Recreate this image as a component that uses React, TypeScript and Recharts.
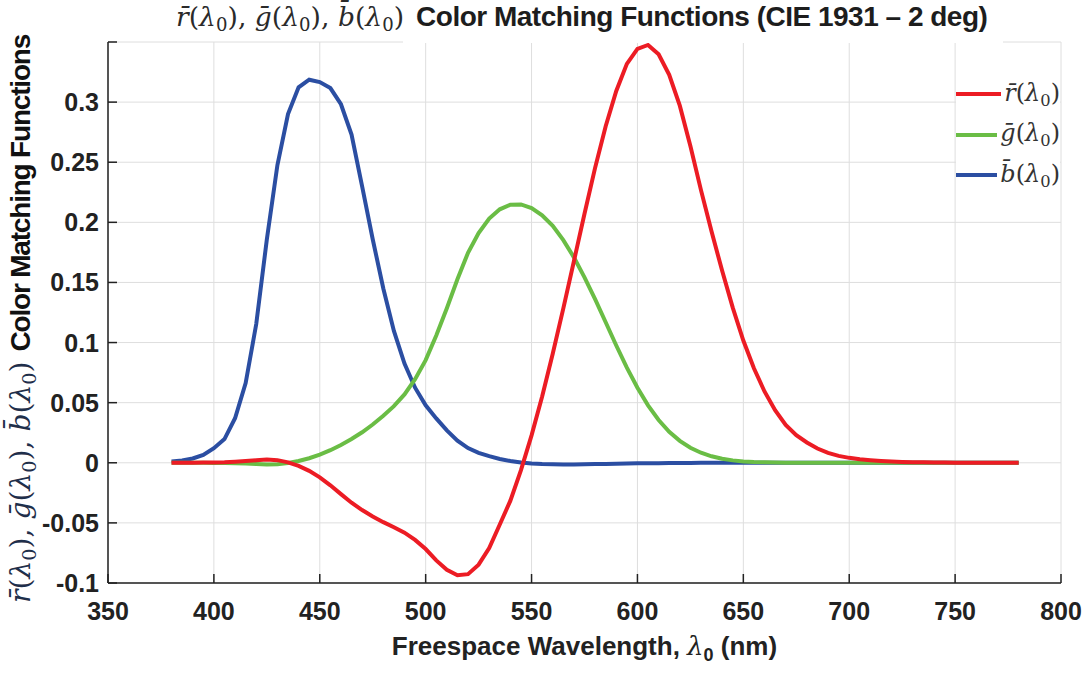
import React from 'react';
import {
  LineChart,
  Line,
  XAxis,
  YAxis,
  CartesianGrid,
  Legend,
} from 'recharts';

// CIE 1931 RGB colour matching functions, 5 nm steps
const wavelengths = [
  380, 385, 390, 395, 400, 405, 410, 415, 420, 425, 430, 435, 440, 445, 450, 455,
  460, 465, 470, 475, 480, 485, 490, 495, 500, 505, 510, 515, 520, 525, 530, 535,
  540, 545, 550, 555, 560, 565, 570, 575, 580, 585, 590, 595, 600, 605, 610, 615,
  620, 625, 630, 635, 640, 645, 650, 655, 660, 665, 670, 675, 680, 685, 690, 695,
  700, 705, 710, 715, 720, 725, 730, 735, 740, 745, 750, 755, 760, 765, 770, 775, 780,
];

const rBar = [
  0.00003, 0.00005, 0.0001, 0.00017, 0.0003, 0.00047, 0.00084, 0.00139, 0.00211, 0.00266,
  0.00218, 0.00036, -0.00261, -0.00673, -0.01213, -0.01874, -0.02608, -0.03324, -0.03933,
  -0.04471, -0.04939, -0.05364, -0.05814, -0.06414, -0.07173, -0.0812, -0.08901, -0.09356,
  -0.09264, -0.08473, -0.07101, -0.05136, -0.03152, -0.00613, 0.02279, 0.05514, 0.0906,
  0.1284, 0.16768, 0.20715, 0.24526, 0.27989, 0.30928, 0.33184, 0.34429, 0.34756, 0.33971,
  0.32265, 0.29708, 0.26348, 0.22677, 0.19233, 0.15968, 0.12905, 0.10167, 0.07857, 0.05932,
  0.04366, 0.03149, 0.02294, 0.01687, 0.01187, 0.00819, 0.00572, 0.0041, 0.00291, 0.0021,
  0.00148, 0.00105, 0.00074, 0.00052, 0.00036, 0.00025, 0.00017, 0.00012, 0.00008, 0.00006,
  0.00004, 0.00003, 0.00001, 0,
];

const gBar = [
  -0.00001, -0.00002, -0.00004, -0.00007, -0.00014, -0.00022, -0.00041, -0.0007, -0.0011,
  -0.00143, -0.00119, -0.00021, 0.00149, 0.00379, 0.00678, 0.01046, 0.01485, 0.01977,
  0.02538, 0.03183, 0.03914, 0.04713, 0.05689, 0.06948, 0.08536, 0.10593, 0.1286, 0.15262,
  0.17468, 0.19113, 0.20317, 0.21083, 0.21466, 0.21487, 0.21178, 0.20588, 0.19702, 0.18522,
  0.17087, 0.15429, 0.1361, 0.11686, 0.09754, 0.07909, 0.06246, 0.04776, 0.03557, 0.02583,
  0.01828, 0.01253, 0.00833, 0.00537, 0.00334, 0.00199, 0.00116, 0.00066, 0.00037, 0.00021,
  0.00011, 0.00006, 0.00003, 0.00001, 0, 0, 0, 0, 0, 0, 0, 0, 0, 0, 0, 0, 0, 0, 0, 0, 0, 0, 0,
];

const bBar = [
  0.00117, 0.00189, 0.00359, 0.00647, 0.01214, 0.01969, 0.03707, 0.06637, 0.11541, 0.18575,
  0.24769, 0.29012, 0.31228, 0.3186, 0.3167, 0.31166, 0.29821, 0.27295, 0.22991, 0.18592,
  0.14494, 0.10968, 0.08257, 0.06246, 0.04776, 0.03688, 0.02698, 0.01842, 0.01221, 0.0083,
  0.00549, 0.0032, 0.00146, 0.00023, -0.00058, -0.00105, -0.0013, -0.00138, -0.00135,
  -0.00123, -0.00108, -0.00093, -0.00079, -0.00063, -0.00049, -0.00038, -0.0003, -0.00022,
  -0.00015, -0.00011, -0.00008, -0.00005, -0.00003, -0.00002, -0.00001, -0.00001, 0, 0, 0, 0,
  0, 0, 0, 0, 0, 0, 0, 0, 0, 0, 0, 0, 0, 0, 0, 0, 0, 0, 0, 0, 0,
];

const xTicks = [350, 400, 450, 500, 550, 600, 650, 700, 750, 800];
const yTicks = [-0.1, -0.05, 0, 0.05, 0.1, 0.15, 0.2, 0.25, 0.3, 0.35];
const yLabels = ['-0.1', '-0.05', '0', '0.05', '0.1', '0.15', '0.2', '0.25', '0.3', ''];

const data = wavelengths.map((w, i) => ({ w, r: rBar[i], g: gBar[i], b: bBar[i] }));

const RED = '#ec1c24';
const GREEN = '#6abd45';
const BLUE = '#2b4ea2';
const INK = '#222';
const TICK_FONT = "'Liberation Sans', Arial, sans-serif";
const MATH_FONT = "'DejaVu Serif', 'Liberation Serif', serif";
const NARROW = "'Liberation Sans Narrow', 'Arial Narrow', 'Liberation Sans', sans-serif";

const BottomTick = (props: any) => {
  const { x, y, payload } = props;
  return (
    <g>
      <line x1={x} x2={x} y1={y} y2={y - 9} stroke={INK} strokeWidth={1.5} />
      <text x={x} y={y + 37} textAnchor="middle" fontFamily={TICK_FONT} fontWeight="bold" fontSize={25} fill={INK}>
        {payload.value}
      </text>
    </g>
  );
};

const TopTick = (props: any) => {
  const { x, y } = props;
  return <line x1={x} x2={x} y1={y} y2={y + 9} stroke={INK} strokeWidth={1.5} />;
};

const LeftTick = (props: any) => {
  const { x, y, payload } = props;
  const idx = yTicks.indexOf(payload.value);
  return (
    <g>
      <line x1={x} x2={x + 9} y1={y} y2={y} stroke={INK} strokeWidth={1.5} />
      <text x={x - 9} y={y + 9} textAnchor="end" fontFamily={TICK_FONT} fontWeight="bold" fontSize={25} fill={INK}>
        {yLabels[idx]}
      </text>
    </g>
  );
};

const RightTick = (props: any) => {
  const { x, y } = props;
  return <line x1={x} x2={x - 9} y1={y} y2={y} stroke={INK} strokeWidth={1.5} />;
};

// r̄(λ0)-style math label
const MathSym = ({ s, size }: { s: string; size: number }) => (
  <span style={{ fontFamily: MATH_FONT, fontSize: size }}>
    <i>{s}&#772;</i>(<i>λ</i>
    <sub style={{ fontSize: size * 0.68, verticalAlign: -size * 0.2 }}>0</sub>)
  </span>
);

const MathTriple = ({ size }: { size: number }) => (
  <span>
    <MathSym s="r" size={size} />
    <span style={{ fontFamily: MATH_FONT, fontSize: size }}>, </span>
    <MathSym s="g" size={size} />
    <span style={{ fontFamily: MATH_FONT, fontSize: size }}>, </span>
    <MathSym s="b" size={size} />
  </span>
);

const LegendBox = () => {
  const items = [
    { s: 'r', c: RED },
    { s: 'g', c: GREEN },
    { s: 'b', c: BLUE },
  ];
  return (
    <div style={{ background: '#fff', width: 104, padding: '4px 0 8px 0' }}>
      {items.map((it) => (
        <div key={it.s} style={{ display: 'flex', alignItems: 'center', height: 40.5 }}>
          <div style={{ width: 48, height: 4, background: it.c, marginRight: 3 }} />
          <span style={{ color: '#333' }}>
            <MathSym s={it.s} size={24} />
          </span>
        </div>
      ))}
    </div>
  );
};

export default function App() {
  return (
    <div style={{ position: 'absolute', left: 0, top: 0, width: 1086, height: 673, background: '#fff' }}>
      <LineChart width={1086} height={673} data={data} margin={{ top: 42, right: 25, left: 0, bottom: 0 }}>
        <CartesianGrid stroke="#dedede" strokeWidth={1} />
        <XAxis
          dataKey="w"
          type="number"
          domain={[350, 800]}
          ticks={xTicks}
          height={90}
          tickSize={0}
          tickMargin={0}
          tickLine={false}
          axisLine={{ stroke: INK, strokeWidth: 1.5 }}
          tick={<BottomTick />}
          interval={0}
        />
        <XAxis
          xAxisId="top"
          orientation="top"
          dataKey="w"
          type="number"
          domain={[350, 800]}
          ticks={xTicks}
          height={0}
          tickSize={0}
          tickMargin={0}
          tickLine={false}
          axisLine={{ stroke: INK, strokeWidth: 1.5 }}
          tick={<TopTick />}
          interval={0}
        />
        <YAxis
          type="number"
          domain={[-0.1, 0.35]}
          ticks={yTicks}
          width={108}
          tickSize={0}
          tickMargin={0}
          tickLine={false}
          axisLine={{ stroke: INK, strokeWidth: 1.5 }}
          tick={<LeftTick />}
          interval={0}
        />
        <YAxis
          yAxisId="right"
          orientation="right"
          type="number"
          domain={[-0.1, 0.35]}
          ticks={yTicks}
          width={0}
          tickSize={0}
          tickMargin={0}
          tickLine={false}
          axisLine={{ stroke: INK, strokeWidth: 1.5 }}
          tick={<RightTick />}
          interval={0}
        />
        <Legend
          layout="vertical"
          align="center"
          verticalAlign="middle"
          content={() => <LegendBox />}
          wrapperStyle={{ position: 'absolute', left: 956, top: 70, width: 104 }}
        />
        <Line type="linear" dataKey="b" stroke={BLUE} strokeWidth={4} dot={false} isAnimationActive={false} />
        <Line type="linear" dataKey="g" stroke={GREEN} strokeWidth={4} dot={false} isAnimationActive={false} />
        <Line type="linear" dataKey="r" stroke={RED} strokeWidth={4} dot={false} isAnimationActive={false} />
      </LineChart>

      {/* title */}
      <div style={{ position: 'absolute', left: 403, top: 0, width: 600, height: 42.6, background: '#fff' }} />
      <div
        style={{
          position: 'absolute',
          left: 176,
          top: 1,
          whiteSpace: 'nowrap',
          display: 'flex',
          alignItems: 'baseline',
          color: '#1d1d1d',
        }}
      >
        <span style={{ color: '#2a2a2a' }}>
          <MathTriple size={26.6} />
        </span>
        <span style={{ fontFamily: NARROW, fontWeight: 'bold', fontSize: 28, letterSpacing: -0.5, marginLeft: 12 }}>
          Color Matching Functions (CIE 1931 – 2 deg)
        </span>
      </div>

      {/* y axis title */}
      <div
        style={{
          position: 'absolute',
          left: 24 - 290,
          top: 319 - 20,
          width: 580,
          height: 40,
          transform: 'rotate(-90deg)',
          display: 'flex',
          justifyContent: 'center',
          alignItems: 'baseline',
          whiteSpace: 'nowrap',
        }}
      >
        <span style={{ color: '#1f2f4a' }}>
          <MathTriple size={28.2} />
        </span>
        <span style={{ fontFamily: NARROW, fontWeight: 'bold', fontSize: 28, letterSpacing: -1.2, marginLeft: 10, color: '#111' }}>
          Color Matching Functions
        </span>
      </div>

      {/* x axis title */}
      <div
        style={{
          position: 'absolute',
          left: 0,
          width: 1169,
          top: 631,
          textAlign: 'center',
          fontFamily: TICK_FONT,
          fontWeight: 'bold',
          fontSize: 26,
          color: INK,
          whiteSpace: 'nowrap',
        }}
      >
        Freespace Wavelength, <i style={{ fontFamily: MATH_FONT, fontWeight: 'normal' }}>λ</i>
        <sub style={{ fontSize: 18 }}>0</sub> (nm)
      </div>
    </div>
  );
}
